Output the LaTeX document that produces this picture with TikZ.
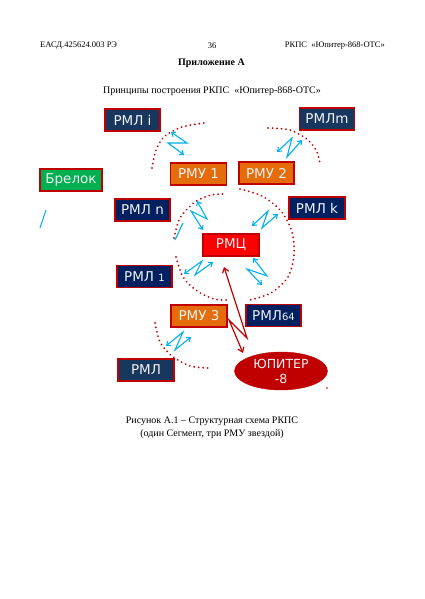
\documentclass[tikz,border=0pt]{standalone}
\usepackage{fontspec}
\setmainfont{Liberation Serif}
\newfontfamily\boxfont{DejaVu Sans}
\usetikzlibrary{arrows.meta,shapes.geometric}
\definecolor{rmlA}{HTML}{17375E}
\definecolor{rmlB}{HTML}{002060}
\definecolor{brd}{HTML}{C00000}
\definecolor{grn}{HTML}{00B050}
\definecolor{org}{HTML}{E46C0A}
\definecolor{rmc}{HTML}{FF0000}
\definecolor{sky}{HTML}{00B0F0}
\definecolor{txt}{HTML}{F2F2F2}
\newcommand\zbolt[4]{\draw[boltline] #1 -- #2 -- #3 -- #4;}
\begin{document}
\begin{tikzpicture}[x=1pt,y=-1pt,
  blk/.style={draw=brd,line width=1.4pt,minimum height=22pt,inner sep=0pt,text=txt,font=\boxfont\fontsize{13.5}{15}\selectfont},
  rmla/.style={blk,fill=rmlA,minimum width=55pt},
  rmlb/.style={blk,fill=rmlB,minimum width=55pt},
  rmu/.style={blk,fill=org,minimum width=56pt},
  dotarc/.style={draw=brd,line width=2pt,line cap=round,dash pattern=on 0.01pt off 4.5pt},
  boltline/.style={draw=sky,line width=1.1pt,{Straight Barb[length=3.5pt,width=5.5pt]}-{Straight Barb[length=3.5pt,width=5.5pt]}},
  zapline/.style={draw=brd,line width=1.2pt,{Straight Barb[length=4.5pt,width=6.5pt]}-{Straight Barb[length=4.5pt,width=6.5pt]}},
  hdr/.style={font=\fontsize{8.5}{10}\selectfont,inner sep=0pt},
  ttl/.style={font=\fontsize{10}{13}\selectfont,inner sep=0pt,align=center}
]
\useasboundingbox[fill=white] (0,0) rectangle (424,599);

% header and titles
\node[hdr,anchor=west] (hl) at (40,46) {ЕАСД.425624.003 РЭ};
\node[hdr] (hc) at (212,46) {36};
\node[hdr,anchor=east] (hr) at (385,46) {РКПС\ \ «Юпитер-868-ОТС»};
\node[ttl,font=\fontsize{10}{13}\selectfont\bfseries] (app) at (211.5,63) {Приложение А};
\node[ttl] (princ) at (212,91) {Принципы построения РКПС\ \ «Юпитер-868-ОТС»};
\node[ttl] (cap) at (212,427.5) {Рисунок А.1 – Структурная схема РКПС\\(один Сегмент, три РМУ звездой)};

% dotted arcs
\draw[dotarc] plot[smooth] coordinates {(152,168) (156,150) (165,136) (182,127) (204,123)};
\draw[dotarc] plot[smooth] coordinates {(268,128) (290,130) (308,140) (317,152) (320,164)};
\draw[dotarc] plot[smooth] coordinates {(174,238) (180,218) (195,202) (211,195) (226,194)};
\draw[dotarc] plot[smooth] coordinates {(240,189) (262,196) (281,211) (292,232) (294,255) (288,277) (271,293) (250,300)};
\draw[dotarc] plot[smooth] coordinates {(176,257) (183,277) (197,291) (214,299) (228,300)};
\draw[dotarc] plot[smooth] coordinates {(155,323) (160,342) (172,356) (190,366) (208,368)};

% nodes
\node[rmla] (rmli) at (132.5,120) {РМЛ i};
\node[rmla] (rmlm) at (327,119) {РМЛm};
\node[blk,fill=grn,minimum width=62pt] (brelok) at (71,180) {Брелок};
\node[rmu] (rmu1) at (198.5,174) {РМУ 1};
\node[rmu,minimum width=55pt] (rmu2) at (266.5,173) {РМУ 2};
\node[rmlb] (rmln) at (142.5,210) {РМЛ n};
\node[rmlb,minimum width=56pt] (rmlk) at (317,208) {РМЛ k};
\node[blk,fill=rmc,minimum width=56pt] (rmc) at (231,245) {РМЦ};
\node[rmlb] (rml1) at (144.5,276.5) {РМЛ {\fontsize{10}{11}\selectfont 1}};
\node[rmu] (rmu3) at (199,316) {РМУ 3};
\node[rmlb] (rml64) at (273.5,315.5) {РМЛ{\fontsize{10}{11}\selectfont 64}};
\node[rmla,minimum width=56pt] (rml) at (146,370) {РМЛ};
\node[ellipse,fill=brd,draw=brd,minimum width=93pt,minimum height=38pt,inner sep=0pt,text=txt,
      font=\boxfont\fontsize{12.5}{15}\selectfont,align=center] (jup) at (281,371) {ЮПИТЕР\\-8};
\fill[brd] (327,388) circle (0.9);

% blue lightning links
\zbolt{(171,132)}{(187,143)}{(168,143)}{(184,155)}
\zbolt{(277,152)}{(292,138)}{(287,157)}{(302,140)}
\zbolt{(197,201)}{(207,219)}{(191,211)}{(203,230)}
\zbolt{(252,226)}{(268,211)}{(262,228)}{(278,214)}
\zbolt{(184,274)}{(202,261)}{(195,275)}{(213,262)}
\zbolt{(253,258)}{(267,276)}{(247,269)}{(262,285)}
\zbolt{(166,346)}{(183,332)}{(175,350)}{(191,337)}
\draw[draw=sky,line width=1.1pt] (40,228) -- (46,210);
\draw[draw=sky,line width=1.1pt] (175,240) -- (183,223);

% red link between RMC and JUPITER
\coordinate (za) at (224,267);
\coordinate (zd) at (243,353);
\draw[zapline] (za) -- (247,338) -- (229,320) -- (zd);
\end{tikzpicture}
\end{document}
